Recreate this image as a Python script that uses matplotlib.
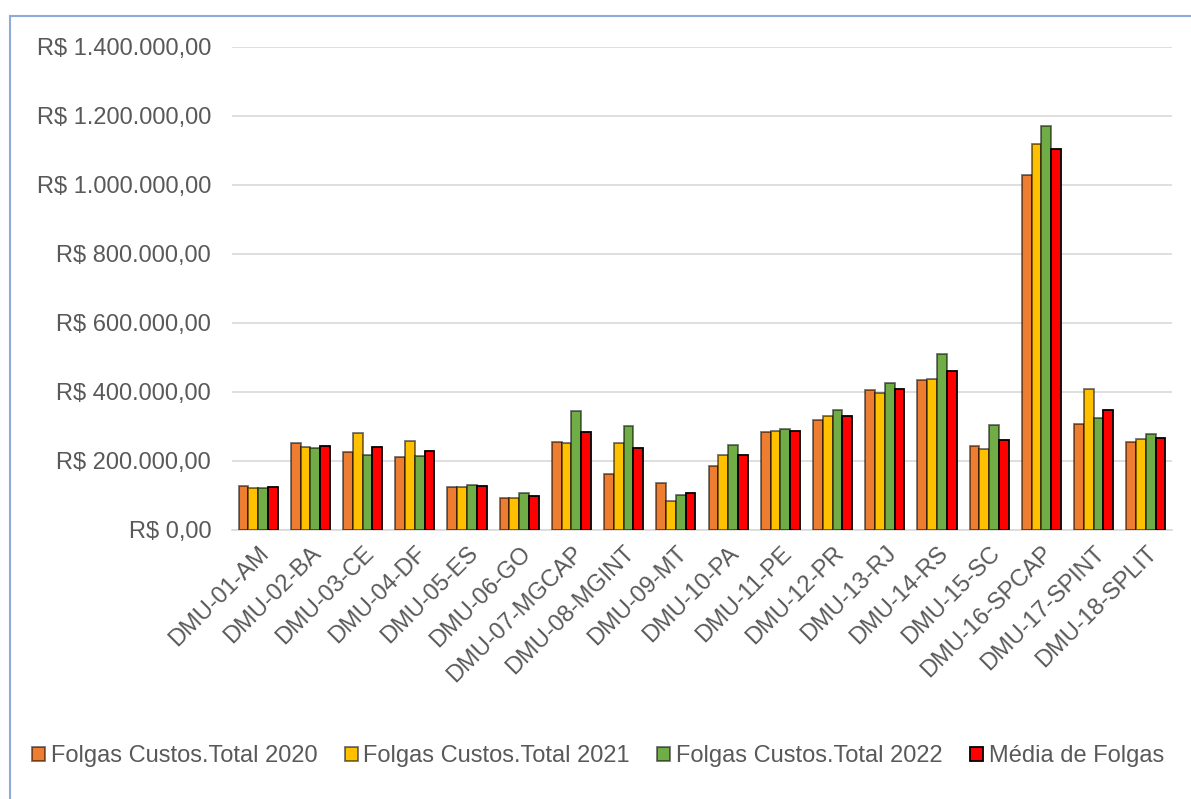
import matplotlib
matplotlib.use("Agg")
import matplotlib.pyplot as plt
import numpy as np
from matplotlib.patches import Patch
from matplotlib.lines import Line2D
from matplotlib.ticker import FuncFormatter, MultipleLocator

categories = ["DMU-01-AM", "DMU-02-BA", "DMU-03-CE", "DMU-04-DF", "DMU-05-ES",
              "DMU-06-GO", "DMU-07-MGCAP", "DMU-08-MGINT", "DMU-09-MT", "DMU-10-PA",
              "DMU-11-PE", "DMU-12-PR", "DMU-13-RJ", "DMU-14-RS", "DMU-15-SC",
              "DMU-16-SPCAP", "DMU-17-SPINT", "DMU-18-SPLIT"]

folgas_2020 = [126000, 250000, 225000, 210000, 123000, 92000, 254000, 161000, 134000,
               183000, 283000, 317000, 403000, 433000, 241000, 1027000, 305000, 254000]
folgas_2021 = [121000, 239000, 279000, 257000, 123000, 91000, 250000, 251000, 84000,
               216000, 285000, 329000, 397000, 436000, 233000, 1116000, 408000, 262000]
folgas_2022 = [120000, 237000, 216000, 214000, 129000, 107000, 344000, 299000, 101000,
               246000, 291000, 345000, 426000, 510000, 302000, 1169000, 324000, 277000]
media_folgas = [123000, 242000, 240000, 228000, 125000, 98000, 283000, 237000, 107000,
                215000, 286000, 330000, 408000, 459000, 259000, 1104000, 346000, 264000]

series_names = ["Folgas Custos.Total 2020", "Folgas Custos.Total 2021",
                "Folgas Custos.Total 2022", "Média de Folgas"]
series_values = [folgas_2020, folgas_2021, folgas_2022, media_folgas]
colors = ["#ED7D31", "#FFC000", "#70AD47", "#FF0000"]
edges = [(0, 0, 0, 0.55), (0, 0, 0, 0.55), (0, 0, 0, 0.55), (0, 0, 0, 1.0)]

plt.rcParams["font.family"] = ["Liberation Sans", "DejaVu Sans"]
text_color = "#595959"
grid_color = "#D9D9D9"

fig = plt.figure(figsize=(11.91, 7.99), dpi=100)
ax = fig.add_axes([232 / 1191, 1 - 529.5 / 799, 940 / 1191, 483 / 799])

x = np.arange(len(categories))
group = 0.75
w = group / 4
for i, (vals, col, ec) in enumerate(zip(series_values, colors, edges)):
    ax.bar(x - group / 2 + w * (i + 0.5), vals, width=w, color=col,
           edgecolor=ec, linewidth=1.3, zorder=3)

ax.set_xlim(-0.5, len(categories) - 0.5)
ax.set_ylim(0, 1400000)
ax.yaxis.set_major_locator(MultipleLocator(200000))


def brl(v, pos):
    s = f"{v:,.2f}"
    s = s.replace(",", "X").replace(".", ",").replace("X", ".")
    return "R$ " + s


ax.yaxis.set_major_formatter(FuncFormatter(brl))
ax.grid(axis="y", color=grid_color, linewidth=1.2, zorder=0)
for side in ["top", "right", "left"]:
    ax.spines[side].set_visible(False)
ax.spines["bottom"].set_color(grid_color)
ax.spines["bottom"].set_linewidth(1.2)

ax.tick_params(axis="y", length=0, pad=15, labelsize=17, labelcolor=text_color)
ax.tick_params(axis="x", length=0, pad=9, labelsize=17, labelcolor=text_color)
ax.set_xticks(x)
ax.set_xticklabels(categories, rotation=45, ha="right", va="top",
                   rotation_mode="anchor")

handles = [Patch(facecolor=c, edgecolor=e, linewidth=1.3) for c, e in zip(colors, edges)]
fig.legend(handles, series_names, loc="center", bbox_to_anchor=(598 / 1191, 1 - 756 / 799),
           ncol=4, frameon=False, fontsize=17, labelcolor=text_color,
           handlelength=0.55, handleheight=0.55, handletextpad=0.25,
           columnspacing=1.15, borderaxespad=0)

border_color = "#8EAADB"
fig.add_artist(Line2D([10 / 1191, 1], [1 - 16 / 799, 1 - 16 / 799],
                      transform=fig.transFigure, color=border_color, linewidth=1.5))
fig.add_artist(Line2D([10 / 1191, 10 / 1191], [0, 1 - 16 / 799],
                      transform=fig.transFigure, color=border_color, linewidth=1.5))

fig.savefig("out.png", dpi=100, facecolor="white")
